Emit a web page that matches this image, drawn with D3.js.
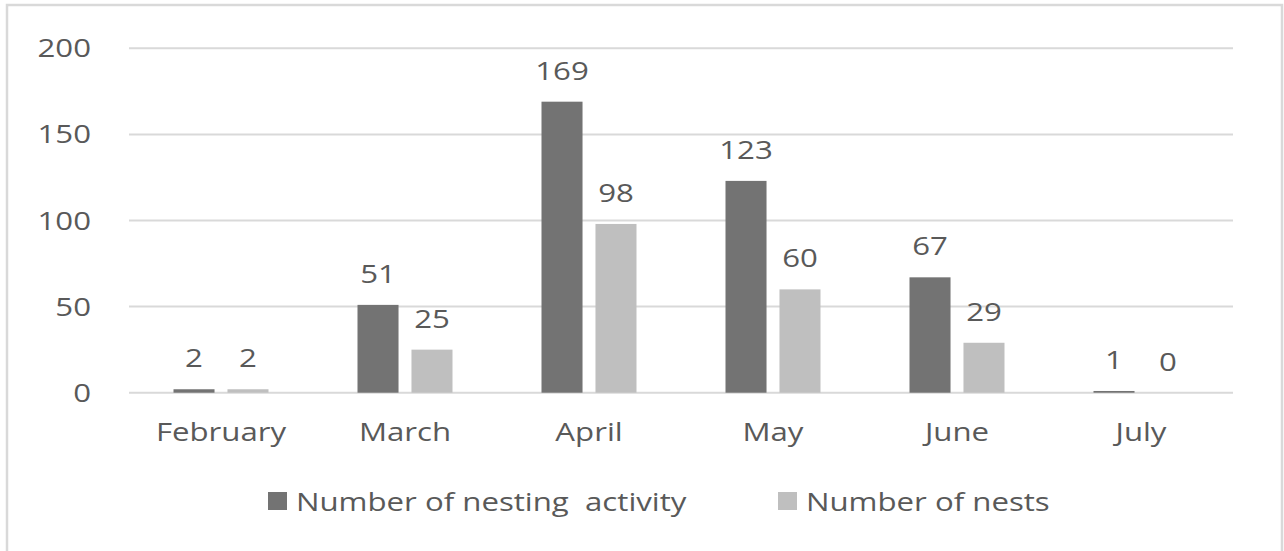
<!DOCTYPE html>
<html>
<head>
<meta charset="utf-8">
<script src="https://cdn.jsdelivr.net/npm/d3@7"></script>
<style>
  body { margin: 0; background: #fff; }
  svg text { font-family: "Open Sans", sans-serif; fill: #595959; }
</style>
</head>
<body>
<svg id="chart"></svg>
<script>
var months = ["February", "March", "April", "May", "June", "July"];
var seriesNames = ["Number of nesting  activity", "Number of nests"];
var nestingActivity = [2, 51, 169, 123, 67, 1];
var nests = [2, 25, 98, 60, 29, 0];
var yTicks = [0, 50, 100, 150, 200];
var colors = ["#737373", "#bfbfbf"];

var W = 1284, H = 551;
var fs = 26, sx = 1.2; // source image is stretched sideways

var svg = d3.select("#chart").attr("width", W).attr("height", H);

// outer frame
svg.append("rect")
    .attr("x", 7).attr("y", 5)
    .attr("width", 1275).attr("height", 570)
    .attr("fill", "none")
    .attr("stroke", "#d9d9d9")
    .attr("stroke-width", 2.5);

var x0 = d3.scaleBand().domain(months).range([129, 1233]);
var x1 = d3.scaleBand().domain([0, 1]).range([44.5, 139.5]).paddingInner(0.24);
var y = d3.scaleLinear().domain([0, 200]).range([392.7, 48.3]);

function label(g, x, yy, txt, anchor) {
    return g.append("text")
        .attr("transform", "translate(" + x + "," + yy + ") scale(" + sx + ",1)")
        .attr("text-anchor", anchor || "middle")
        .attr("font-size", fs)
        .text(txt);
}

// gridlines
svg.append("g").selectAll("line")
    .data(yTicks)
    .enter().append("line")
    .attr("x1", 129).attr("x2", 1233)
    .attr("y1", function (d) { return y(d); })
    .attr("y2", function (d) { return y(d); })
    .attr("stroke", "#d9d9d9")
    .attr("stroke-width", 2);

// y axis labels
var gY = svg.append("g");
yTicks.forEach(function (t) {
    label(gY, 91, y(t) + 9, t, "end");
});

// x axis labels
var gX = svg.append("g");
months.forEach(function (m) {
    label(gX, x0(m) + x0.bandwidth() / 2, 441, m);
});

// bars
var rows = months.map(function (m, i) {
    return { month: m, vals: [nestingActivity[i], nests[i]] };
});

var groups = svg.append("g").selectAll("g")
    .data(rows)
    .enter().append("g")
    .attr("transform", function (d) { return "translate(" + x0(d.month) + ",0)"; });

groups.selectAll("rect")
    .data(function (d) { return d.vals.map(function (v, k) { return { k: k, v: v }; }); })
    .enter().append("rect")
    .attr("x", function (d) { return x1(d.k); })
    .attr("width", x1.bandwidth())
    .attr("y", function (d) { return y(d.v); })
    .attr("height", function (d) { return y(0) - y(d.v); })
    .attr("fill", function (d) { return colors[d.k]; });

// value labels
rows.forEach(function (r) {
    var g = svg.append("g");
    r.vals.forEach(function (v, k) {
        label(g, x0(r.month) + x1(k) + x1.bandwidth() / 2, y(v) - 22, v);
    });
});

// legend
var legendX = [268, 778];
var lg = svg.append("g");
seriesNames.forEach(function (s, k) {
    lg.append("rect")
        .attr("x", legendX[k]).attr("y", 492)
        .attr("width", 19).attr("height", 18)
        .attr("fill", colors[k]);
    label(lg, legendX[k] + 28, 511, s, "start").style("white-space", "pre");
});
</script>
</body>
</html>
